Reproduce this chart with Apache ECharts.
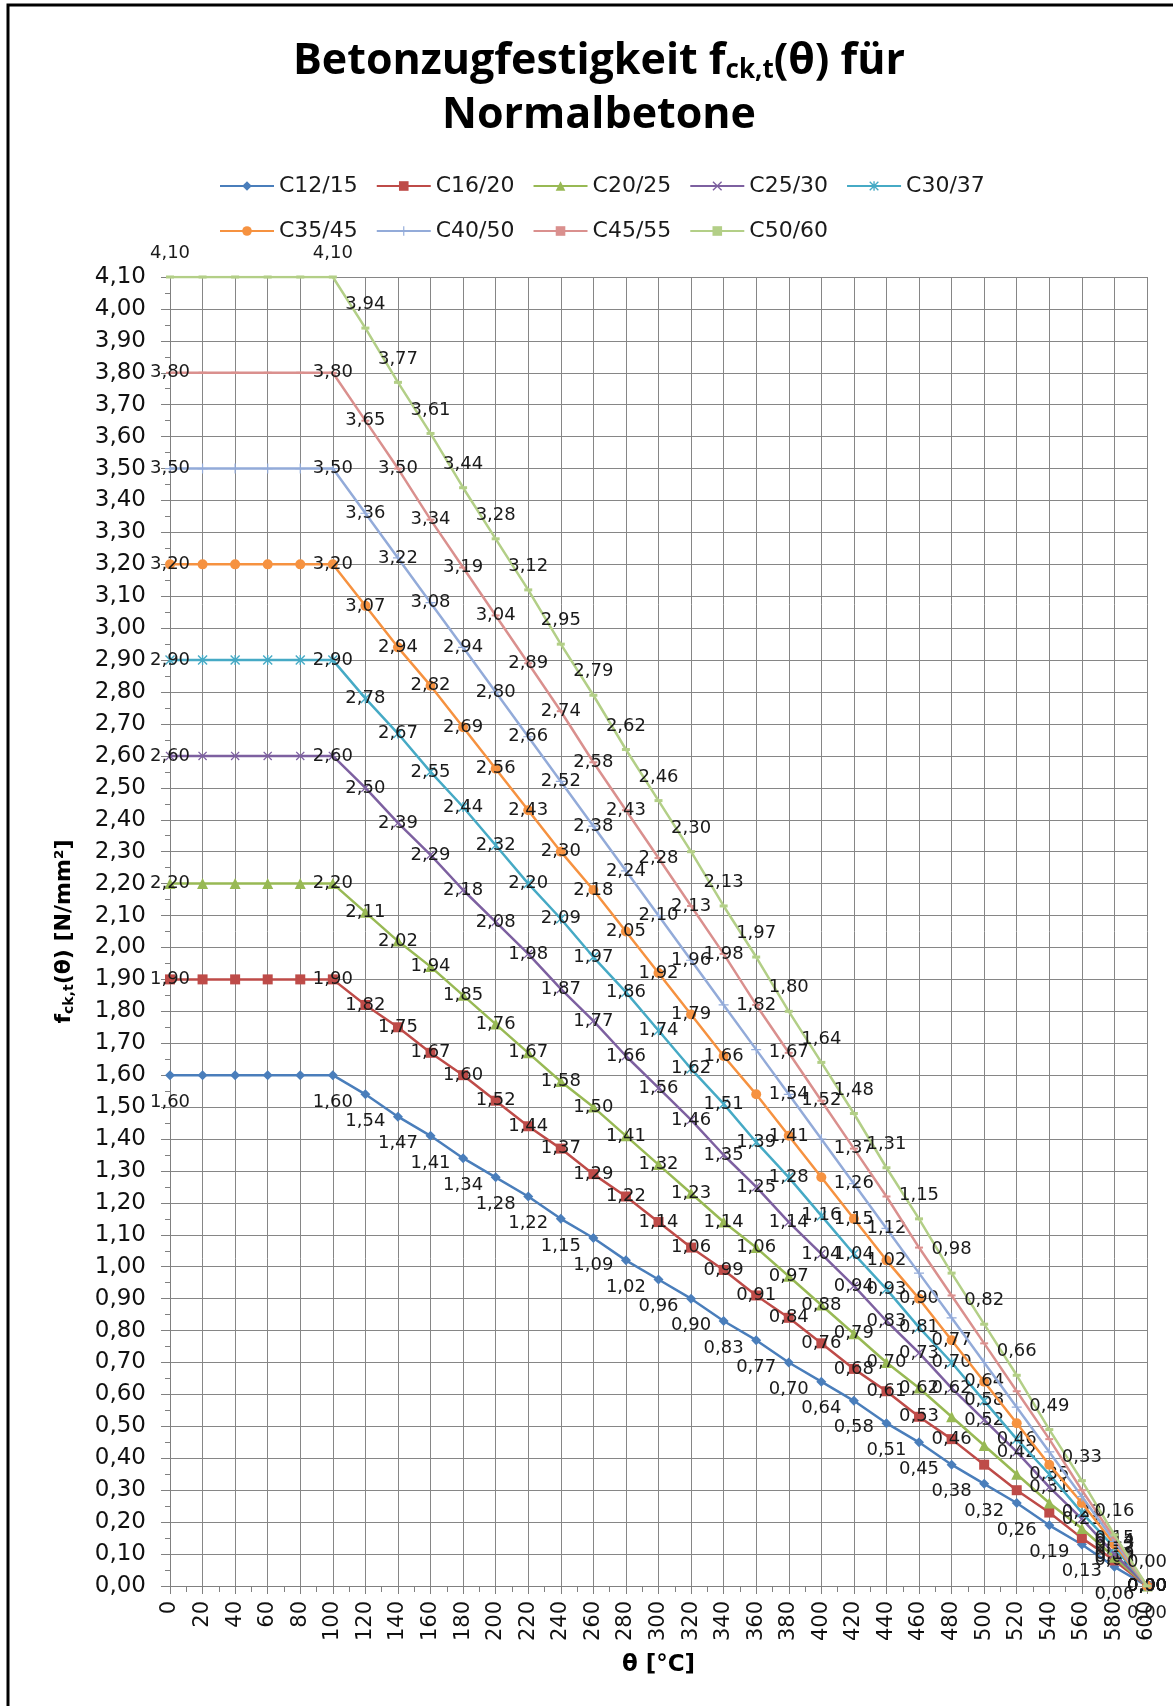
<!DOCTYPE html>
<html><head><meta charset="utf-8">
<script src="https://cdn.jsdelivr.net/npm/echarts@6/dist/echarts.min.js"></script>
<style>html,body{margin:0;padding:0;background:#fff}#c{width:1173px;height:1706px}</style>
</head><body><div id="c"></div>
<script>
// Temperature θ [°C]
const theta = [0,20,40,60,80,100,120,140,160,180,200,220,240,260,280,300,320,340,360,380,400,420,440,460,480,500,520,540,560,580,600];

// f_ck,t(θ) [N/mm²] per concrete class (as labelled in the chart)
const C12_15 = [1.60,1.60,1.60,1.60,1.60,1.60,1.54,1.47,1.41,1.34,1.28,1.22,1.15,1.09,1.02,0.96,0.90,0.83,0.77,0.70,0.64,0.58,0.51,0.45,0.38,0.32,0.26,0.19,0.13,0.06,0.00];
const C16_20 = [1.90,1.90,1.90,1.90,1.90,1.90,1.82,1.75,1.67,1.60,1.52,1.44,1.37,1.29,1.22,1.14,1.06,0.99,0.91,0.84,0.76,0.68,0.61,0.53,0.46,0.38,0.30,0.23,0.15,0.08,0.00];
const C20_25 = [2.20,2.20,2.20,2.20,2.20,2.20,2.11,2.02,1.94,1.85,1.76,1.67,1.58,1.50,1.41,1.32,1.23,1.14,1.06,0.97,0.88,0.79,0.70,0.62,0.53,0.44,0.35,0.26,0.18,0.09,0.00];
const C25_30 = [2.60,2.60,2.60,2.60,2.60,2.60,2.50,2.39,2.29,2.18,2.08,1.98,1.87,1.77,1.66,1.56,1.46,1.35,1.25,1.14,1.04,0.94,0.83,0.73,0.62,0.52,0.42,0.31,0.21,0.10,0.00];
const C30_37 = [2.90,2.90,2.90,2.90,2.90,2.90,2.78,2.67,2.55,2.44,2.32,2.20,2.09,1.97,1.86,1.74,1.62,1.51,1.39,1.28,1.16,1.04,0.93,0.81,0.70,0.58,0.46,0.35,0.23,0.12,0.00];
const C35_45 = [3.20,3.20,3.20,3.20,3.20,3.20,3.07,2.94,2.82,2.69,2.56,2.43,2.30,2.18,2.05,1.92,1.79,1.66,1.54,1.41,1.28,1.15,1.02,0.90,0.77,0.64,0.51,0.38,0.26,0.13,0.00];
const C40_50 = [3.50,3.50,3.50,3.50,3.50,3.50,3.36,3.22,3.08,2.94,2.80,2.66,2.52,2.38,2.24,2.10,1.96,1.82,1.68,1.54,1.40,1.26,1.12,0.98,0.84,0.70,0.56,0.42,0.28,0.14,0.00];
const C45_55 = [3.80,3.80,3.80,3.80,3.80,3.80,3.65,3.50,3.34,3.19,3.04,2.89,2.74,2.58,2.43,2.28,2.13,1.98,1.82,1.67,1.52,1.37,1.22,1.06,0.91,0.76,0.61,0.46,0.30,0.15,0.00];
const C50_60 = [4.10,4.10,4.10,4.10,4.10,4.10,3.94,3.77,3.61,3.44,3.28,3.12,2.95,2.79,2.62,2.46,2.30,2.13,1.97,1.80,1.64,1.48,1.31,1.15,0.98,0.82,0.66,0.49,0.33,0.16,0.00];

const seriesNames = ['C12/15','C16/20','C20/25','C25/30','C30/37','C35/45','C40/50','C45/55','C50/60'];
const seriesValues = [C12_15,C16_20,C20_25,C25_30,C30_37,C35_45,C40_50,C45_55,C50_60];

// points whose data label is not shown in the original chart (θ values)
const hiddenLabels = {
  'C16/20': [500,520,540,560],
  'C20/25': [480,500,520,540,560],
  'C35/45': [360,400,520,540,560],
  'C40/50': [340,360,400,460,480,500,520,540,560],
  'C45/55': [440,460,480,500,520,540,560]
};

// styles
const colors = ['#4A7EBB','#BE4B48','#98B954','#7D60A0','#46AAC5','#F69240','#93ABD9','#DA908E','#B3CF87'];
const XMARK = 'path://M0,1 L1,0 L5,4 L9,0 L10,1 L6,5 L10,9 L9,10 L5,6 L1,10 L0,9 L4,5 Z';
const STAR = 'path://M0,1 L1,0 L5,4 L9,0 L10,1 L6,5 L10,9 L9,10 L5,6 L1,10 L0,9 L4,5 Z M4.3,0 L5.7,0 L5.7,10 L4.3,10 Z';
const PLUS = 'path://M4.4,0 L5.6,0 L5.6,4.4 L10,4.4 L10,5.6 L5.6,5.6 L5.6,10 L4.4,10 L4.4,5.6 L0,5.6 L0,4.4 L4.4,4.4 Z';
const symbols = ['diamond','rect','triangle',XMARK,STAR,'circle',PLUS,'rect','rect'];
const symbolSizes = [10,10,11,9,10,10,10,[8,2],[8,3]];
const labelPos = ['bottom','inside','inside','inside','inside','inside','inside','inside','top'];

const fmt = v => Number(v).toFixed(2).replace('.', ',');
const FONT = 'DejaVu Sans';

const series = seriesNames.map((name, i) => {
  const hide = hiddenLabels[name] || [];
  return {
    name: name,
    type: 'line',
    data: theta.map((t, k) => [t, seriesValues[i][k]]),
    symbol: symbols[i],
    symbolSize: symbolSizes[i],
    showSymbol: true,
    lineStyle: { color: colors[i], width: 2.5 },
    itemStyle: { color: colors[i] },
    z: 2 + i,
    label: {
      show: true,
      position: labelPos[i],
      distance: 13,
      fontFamily: FONT,
      fontSize: 18,
      color: '#1a1a1a',
      formatter: p => ((p.value[0] > 0 && p.value[0] < 100) || hide.indexOf(p.value[0]) >= 0) ? '' : fmt(p.value[1])
    },
    emphasis: { disabled: true },
    animation: false
  };
});

const legendCommon = {
  left: 214,
  orient: 'horizontal',
  itemWidth: 54,
  itemHeight: 12,
  itemGap: 18,
  textStyle: { fontFamily: FONT, fontSize: 22, color: '#1a1a1a' },
  selectedMode: false
};

const chart = echarts.init(document.getElementById('c'));
chart.setOption({
  animation: false,
  backgroundColor: '#ffffff',
  title: {
    text: 'Betonzugfestigkeit f{s|ck,t}(θ) für\nNormalbetone',
    left: 594,
    top: 30,
    textAlign: 'center',
    textStyle: {
      fontFamily: 'Open Sans', fontWeight: 'bold', fontSize: 43, lineHeight: 54, color: '#000',
      rich: {
        s: { fontFamily: 'Open Sans', fontWeight: 'bold', fontSize: 26, lineHeight: 30, padding: [18, 0, 0, 0], color: '#000' }
      }
    }
  },
  legend: [
    Object.assign({}, legendCommon, { top: 170, data: seriesNames.slice(0, 5) }),
    Object.assign({}, legendCommon, { top: 215, data: seriesNames.slice(5) })
  ],
  graphic: [{
    type: 'rect', silent: true,
    shape: { x: 8, y: 5, width: 1400, height: 1900 },
    style: { fill: 'none', stroke: '#000', lineWidth: 3 }
  }],
  grid: { left: 170, right: 26, top: 277, bottom: 120 },
  xAxis: {
    type: 'value', min: 0, max: 600, interval: 20,
    name: 'θ [°C]', nameLocation: 'middle', nameGap: 68,
    nameTextStyle: { fontFamily: FONT, fontWeight: 'bold', fontSize: 23, color: '#000' },
    axisLine: { show: true, lineStyle: { color: '#808080', width: 1 } },
    axisTick: { show: true, length: 8, lineStyle: { color: '#808080' } },
    minorTick: { show: true, splitNumber: 2, length: 6, lineStyle: { color: '#808080' } },
    splitLine: { show: true, lineStyle: { color: '#868686', width: 1 } },
    axisLabel: { rotate: 90, fontFamily: FONT, fontSize: 21, color: '#111', margin: 15, formatter: v => String(v) }
  },
  yAxis: {
    type: 'value', min: 0, max: 4.1, interval: 0.1,
    name: 'f{s|ck,t}(θ) [N/mm²]', nameLocation: 'middle', nameGap: 94,
    nameTextStyle: {
      fontFamily: FONT, fontWeight: 'bold', fontSize: 22, color: '#000',
      rich: { s: { fontFamily: FONT, fontWeight: 'bold', fontSize: 14, padding: [9, 0, 0, 0], color: '#000' } }
    },
    axisLine: { show: true, lineStyle: { color: '#808080', width: 1 } },
    axisTick: { show: true, length: 9, lineStyle: { color: '#808080' } },
    minorTick: { show: true, splitNumber: 2, length: 5, lineStyle: { color: '#808080' } },
    splitLine: { show: true, lineStyle: { color: '#868686', width: 1 } },
    axisLabel: { fontFamily: FONT, fontSize: 23, color: '#111', margin: 24, formatter: v => fmt(v) }
  },
  series: series
});
</script>
</body></html>
